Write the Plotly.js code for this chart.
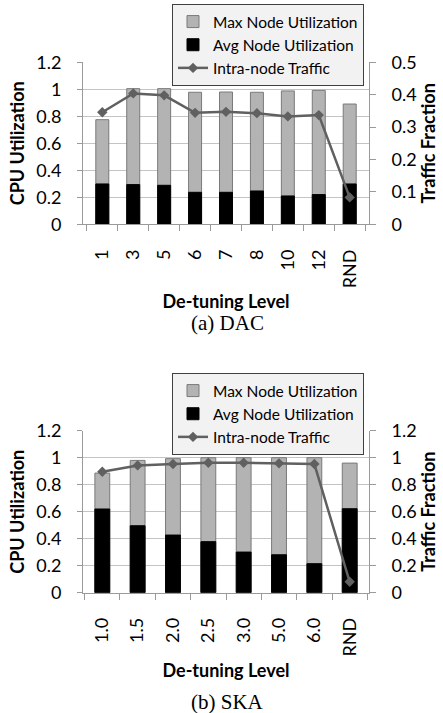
<!DOCTYPE html>
<html>
<head>
<meta charset="utf-8">
<script src="https://cdn.plot.ly/plotly-3.0.1.min.js"></script>
<style>html,body{margin:0;padding:0;background:#fff;}#chart{width:443px;height:713px;}</style>
</head>
<body>
<div id="chart"></div>
<script>
// ---- Data: (a) DAC ----
const dacLevels = ["1","3","5","6","7","8","10","12","RND"];
const dacMaxUtil = [0.775, 1.005, 1.005, 0.978, 0.98, 0.978, 0.988, 0.992, 0.891];
const dacAvgUtil = [0.299, 0.294, 0.289, 0.237, 0.237, 0.247, 0.21, 0.22, 0.299];
const dacTraffic = [0.346, 0.404, 0.398, 0.344, 0.347, 0.343, 0.333, 0.337, 0.083];

// ---- Data: (b) SKA ----
const skaLevels = ["1.0","1.5","2.0","2.5","3.0","5.0","6.0","RND"];
const skaMaxUtil = [0.886, 0.98, 0.993, 1.0, 1.0, 1.0, 1.0, 0.96];
const skaAvgUtil = [0.62, 0.496, 0.427, 0.378, 0.301, 0.281, 0.215, 0.622];
const skaTraffic = [0.896, 0.943, 0.953, 0.963, 0.963, 0.958, 0.953, 0.081];

const names = ["Max Node Utilization", "Avg Node Utilization", "Intra-node Traffic"];
const captions = ["(a) DAC", "(b) SKA"];
const xTitle = "De-tuning Level";
const yTitleL = "CPU Utilization";
const yTitleR = "Traffic Fraction";

const FONT = "Lato, 'Open Sans', sans-serif";
const GRAY = "#b3b3b3", LINE = "#606060", AX = "#9a9a9a", GRID = "#c4c4c4";

function traces(cats, mx, av, tr, xa, yl, yr, leg) {
  return [
    {type:"bar", x:cats, y:mx, name:names[0], xaxis:xa, yaxis:yl, legend:leg,
     marker:{color:GRAY, line:{color:"#7a7a7a", width:1}}},
    {type:"bar", x:cats, y:av, name:names[1], xaxis:xa, yaxis:yl, legend:leg,
     marker:{color:"#000000", line:{color:"#000000", width:1}}},
    {type:"scatter", mode:"lines+markers", x:cats, y:tr, name:names[2], xaxis:xa, yaxis:yr, legend:leg,
     line:{color:LINE, width:2.5}, marker:{symbol:"diamond", size:8, color:LINE}, cliponaxis:false}
  ];
}

const data = [].concat(
  traces(dacLevels, dacMaxUtil, dacAvgUtil, dacTraffic, "x", "y", "y2", "legend"),
  traces(skaLevels, skaMaxUtil, skaAvgUtil, skaTraffic, "x2", "y3", "y4", "legend2")
);

const W = 443, H = 713;
const xd = [83/W, 369/W];
const topDom = [1-224.3/H, 1-62.3/H];
const botDom = [1-592.7/H, 1-430.7/H];
const tf = {family:FONT, size:18, color:"#000"};
const titleFont = {family:FONT, size:18, color:"#000", weight:"bold"};

function xAxis(anchor) {
  return {domain:xd, anchor:anchor, type:"category", tickangle:-90, tickfont:tf,
    showline:true, linecolor:AX, linewidth:1, ticks:"outside", ticklen:6, tickcolor:AX,
    tickson:"boundaries", showgrid:false, ticklabelstandoff:17,
    title:{text:"<b>"+xTitle+"</b>", font:titleFont, standoff:8}};
}
function yLeft(anchor, dom, range, dtick) {
  return {domain:dom, anchor:anchor, range:range, dtick:dtick, tickfont:tf,
    showline:true, linecolor:AX, linewidth:1, ticks:"outside", ticklen:5, tickcolor:AX,
    showgrid:true, gridcolor:GRID, gridwidth:1, zeroline:false, ticklabelstandoff:12,
    title:{text:"<b>"+yTitleL+"</b>", font:titleFont, standoff:6}};
}
function yRight(anchor, over, range, dtick) {
  return {anchor:anchor, overlaying:over, side:"right", range:range, dtick:dtick, tickfont:tf,
    showline:true, linecolor:AX, linewidth:1, ticks:"outside", ticklen:6, tickcolor:AX,
    showgrid:false, zeroline:false, ticklabelstandoff:12,
    title:{text:"<b>"+yTitleR+"</b>", font:titleFont, standoff:6}};
}
function legendOpts(ytop) {
  return {x:364/W, y:ytop, xanchor:"right", yanchor:"top", bgcolor:"#f2f2f2",
    bordercolor:"#404040", borderwidth:1, font:{family:FONT, size:15.5, color:"#000"},
    traceorder:"normal", itemwidth:30, tracegroupgap:0};
}

const layout = {
  width:W, height:H, margin:{l:0, r:0, t:0, b:0},
  paper_bgcolor:"#fff", plot_bgcolor:"#fff",
  barmode:"overlay", bargap:0.58, showlegend:true,
  xaxis: xAxis("y"),
  yaxis: yLeft("x", topDom, [0, 1.2], 0.2),
  yaxis2: yRight("x", "y", [0, 0.5], 0.1),
  xaxis2: xAxis("y3"),
  yaxis3: yLeft("x2", botDom, [0, 1.2], 0.2),
  yaxis4: yRight("x2", "y3", [0, 1.2], 0.2),
  legend: legendOpts(1-4/H),
  legend2: legendOpts(1-373/H),
  annotations: [
    {text:captions[0], xref:"paper", yref:"paper", x:227/W, y:1-323/H, xanchor:"center", yanchor:"middle",
     showarrow:false, font:{family:"'Liberation Serif', 'DejaVu Serif', serif", size:21, color:"#000"}},
    {text:captions[1], xref:"paper", yref:"paper", x:227/W, y:1-702/H, xanchor:"center", yanchor:"middle",
     showarrow:false, font:{family:"'Liberation Serif', 'DejaVu Serif', serif", size:21, color:"#000"}}
  ]
};

Plotly.newPlot("chart", data, layout, {staticPlot:true, displayModeBar:false});
</script>
</body>
</html>
